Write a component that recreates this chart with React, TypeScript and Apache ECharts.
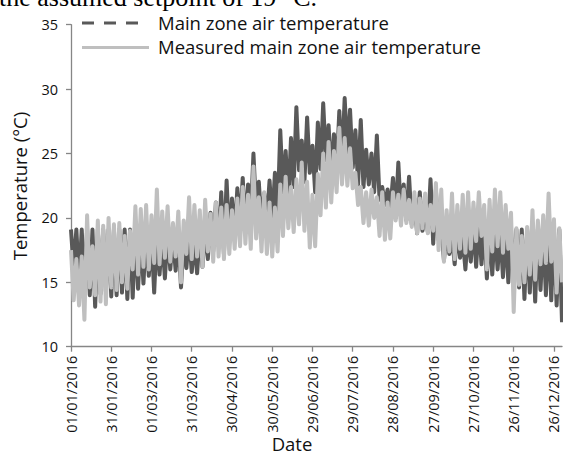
import React, { useEffect, useRef } from "react";
import * as echarts from "echarts";

// X axis ticks: day-of-year (2016, leap year) and their labels
const tickDays = [0, 30, 60, 90, 120, 150, 180, 210, 240, 270, 300, 330, 360];
const tickLabels = [
  "01/01/2016", "31/01/2016", "01/03/2016", "31/03/2016", "30/04/2016",
  "30/05/2016", "29/06/2016", "29/07/2016", "28/08/2016", "27/09/2016",
  "27/10/2016", "26/11/2016", "26/12/2016",
];
const yTicks = [10, 15, 20, 25, 30, 35];

// Readings every 4 days (day 0, 4, 8 ... 364): a high at day 4k and a low at day 4k+2 (°C)
const mainZoneHigh = [
  19.1, 19.1, 19.1, 19.1, 19.1, 19.1, 19.1, 19.1, 19.1, 19.1, 19.1, 19.1,
  19.0, 18.9, 19.0,
  18.7, 18.9, 18.5, 19.0, 18.6, 18.8, 18.4, 18.8,
  18.3, 18.9, 19.6, 20.4, 21.2, 22.0, 22.9,
  21.5, 22.3, 23.1, 22.6, 25.0, 22.8, 21.9, 22.9,
  23.5, 26.8, 25.2, 26.2, 28.6, 26.0, 27.8, 25.6,
  27.4, 28.9, 27.2, 26.5, 28.3, 29.3, 28.4,
  26.8, 27.6, 25.3, 25.0, 26.4, 22.4, 22.2, 23.1,
  24.3, 22.6, 23.2, 21.5, 22.0, 21.0, 23.0, 22.2,
  19.3, 19.0, 18.6, 19.2, 18.4, 19.0,
  19.6, 19.8, 19.4, 19.6, 19.2, 19.1, 19.1, 19.1,
  19.1, 19.1, 19.1, 19.1, 19.1, 19.1, 19.1, 19.1, 19.1,
];
const mainZoneLow = [
  16.0, 15.0, 14.3, 14.0, 13.1, 14.1, 14.3, 13.9, 14.0, 14.2, 13.7, 13.8,
  14.5, 14.9, 15.5,
  14.2, 15.6, 15.3, 16.0, 15.9, 14.6, 16.1, 15.8,
  15.7, 16.2, 16.8, 17.4, 17.8, 17.2, 18.2,
  18.6, 19.3, 19.0, 20.0, 20.6, 19.4, 19.8, 19.6,
  20.2, 22.0, 21.2, 22.4, 23.7, 22.8, 23.5, 22.0,
  23.8, 24.5, 23.1, 23.6, 24.2, 25.0, 23.9,
  22.6, 22.4, 22.6, 22.0, 21.4, 21.0, 20.6, 20.0,
  20.2, 19.8, 19.5, 18.8, 19.0, 18.9, 18.0, 18.3,
  16.7, 17.2, 16.4, 16.9, 16.0, 16.6,
  16.2, 16.4, 15.3, 15.6, 16.0, 15.4, 15.0, 15.4,
  14.6, 13.7, 14.2, 13.5, 14.4, 14.0, 13.6, 13.2, 11.9,
];
const measuredHigh = [
  17.5, 16.8, 17.0, 20.2, 17.8, 19.8, 19.4, 20.0, 19.5, 19.6, 18.6, 19.0,
  20.9, 20.7, 21.0,
  20.2, 22.2, 20.5, 20.9, 19.6, 20.5, 19.8, 21.6,
  21.0, 20.6, 21.4, 20.3, 21.2, 20.8, 21.0,
  20.6, 21.5, 22.4, 21.8, 24.0, 21.6, 22.0, 21.2,
  20.8, 22.6, 23.2, 22.4, 23.0, 24.3, 22.8, 21.8,
  23.4, 25.0, 25.9, 25.2, 27.0, 26.2, 25.4,
  23.5, 22.4, 22.0, 22.2, 21.6, 22.0, 21.2, 22.0,
  21.8, 22.2, 21.4, 22.0, 21.5, 21.9, 21.0, 22.7,
  22.2, 20.6, 21.9, 21.0, 21.8, 22.0,
  21.2, 22.0, 21.0, 21.4, 22.2, 22.0, 21.0, 20.4,
  19.2, 18.6, 19.3, 20.6, 19.8, 20.2, 21.9, 19.9, 19.2,
];
const measuredLow = [
  13.6, 13.2, 12.1, 14.6, 14.0, 13.5, 13.3, 14.6, 14.4, 15.0, 14.5, 16.0,
  15.6, 16.2, 16.0,
  16.5, 16.4, 16.9, 16.6, 17.0, 15.0, 17.2, 16.8,
  17.0, 16.2, 17.4, 16.6, 17.0, 16.8, 17.2,
  17.6, 17.8, 18.0, 17.6, 18.4, 17.4, 17.2, 17.0,
  17.4, 18.6, 19.2, 18.9, 19.5, 19.0, 17.7, 17.8,
  20.2, 20.8, 21.2, 22.0, 22.6, 22.5, 22.3,
  21.0, 19.6, 19.4, 20.0, 18.6, 18.3, 18.4, 19.8,
  19.4, 19.6, 19.3, 18.8, 19.2, 18.8, 19.0, 17.5,
  16.6, 17.4, 16.8, 17.6, 17.3, 17.6,
  18.2, 18.6, 16.0, 17.4, 17.8, 17.3, 17.6, 12.7,
  14.8, 15.0, 15.6, 15.2, 16.4, 16.5, 16.6, 14.2, 15.0,
];

const STEP = 4;
function toPoints(high: number[], low: number[]) {
  const pts: [number, number][] = [];
  for (let k = 0; k < high.length; k++) {
    pts.push([k * STEP, high[k]]);
    pts.push([k * STEP + STEP / 2, low[k]]);
  }
  return pts;
}

const FONT = "'Open Sans', 'Noto Sans', sans-serif";
const DARK = "#595959";
const LIGHT = "#BFBFBF";
const AXIS = "#868686";

export default function App() {
  const ref = useRef<HTMLDivElement>(null);
  useEffect(() => {
    if (!ref.current) return;
    const chart = echarts.init(ref.current, undefined, { renderer: "svg" });
    chart.setOption({
      animation: false,
      backgroundColor: "#ffffff",
      textStyle: { fontFamily: FONT },
      grid: { left: 71, right: 1, top: 24.7, bottom: 108.3, containLabel: false },
      xAxis: {
        type: "value",
        min: 0,
        max: 366,
        interval: 30,
        splitLine: { show: false },
        axisLine: { show: true, lineStyle: { color: AXIS, width: 1.3 } },
        axisTick: { show: true, length: 5, customValues: tickDays, lineStyle: { color: AXIS, width: 1.3 } },
        axisLabel: {
          rotate: 90,
          margin: 9,
          fontSize: 14.5,
          fontFamily: FONT,
          color: "#111",
          customValues: tickDays,
          formatter: (v: number) => {
            const i = tickDays.indexOf(Math.round(v));
            return i >= 0 ? tickLabels[i] : "";
          },
        },
      },
      yAxis: {
        type: "value",
        min: yTicks[0],
        max: yTicks[yTicks.length - 1],
        interval: 5,
        splitLine: { show: false },
        axisLine: { show: true, lineStyle: { color: AXIS, width: 1.3 } },
        axisTick: { show: true, length: 5, lineStyle: { color: AXIS, width: 1.3 } },
        axisLabel: { fontSize: 14.5, fontFamily: FONT, color: "#111", margin: 13 },
      },
      series: [
        {
          name: "Main zone air temperature",
          type: "line",
          data: toPoints(mainZoneHigh, mainZoneLow),
          symbol: "none",
          showSymbol: false,
          lineStyle: { color: DARK, width: 4, join: "round" },
          itemStyle: { color: DARK },
          z: 2,
        },
        {
          name: "Measured main zone air temperature",
          type: "line",
          data: toPoints(measuredHigh, measuredLow),
          symbol: "none",
          showSymbol: false,
          lineStyle: { color: LIGHT, width: 4, join: "round" },
          itemStyle: { color: LIGHT },
          z: 3,
        },
      ],
      graphic: [
        {
          type: "text",
          x: -1,
          y: -2.5,
          style: {
            text: "the assumed setpoint of 19 °C.",
            fill: "#000",
            fontSize: 26,
            fontFamily: "'Liberation Serif', serif",
            align: "left",
            verticalAlign: "middle",
          },
        },
        {
          type: "line",
          shape: { x1: 82, y1: 23, x2: 138, y2: 23 },
          style: { stroke: DARK, lineWidth: 3, lineDash: [12, 10] },
        },
        {
          type: "text",
          x: 158,
          y: 22,
          style: {
            text: "Main zone air temperature",
            fill: "#111",
            fontSize: 18.5,
            fontFamily: FONT,
            align: "left",
            verticalAlign: "middle",
          },
        },
        {
          type: "line",
          shape: { x1: 82, y1: 47.5, x2: 149, y2: 47.5 },
          style: { stroke: LIGHT, lineWidth: 3 },
        },
        {
          type: "text",
          x: 158,
          y: 46.5,
          style: {
            text: "Measured main zone air temperature",
            fill: "#111",
            fontSize: 18.5,
            fontFamily: FONT,
            align: "left",
            verticalAlign: "middle",
          },
        },
        {
          type: "text",
          x: 19.5,
          y: 186,
          rotation: Math.PI / 2,
          style: {
            text: "Temperature (°C)",
            fill: "#111",
            fontSize: 18.5,
            fontFamily: FONT,
            align: "center",
            verticalAlign: "middle",
          },
        },
        {
          type: "text",
          x: 292,
          y: 443,
          style: {
            text: "Date",
            fill: "#111",
            fontSize: 18.5,
            fontFamily: FONT,
            align: "center",
            verticalAlign: "middle",
          },
        },
      ],
    });
    return () => chart.dispose();
  }, []);
  return (
    <div
      ref={ref}
      style={{ position: "fixed", left: 0, top: 0, width: 563, height: 455 }}
    />
  );
}
